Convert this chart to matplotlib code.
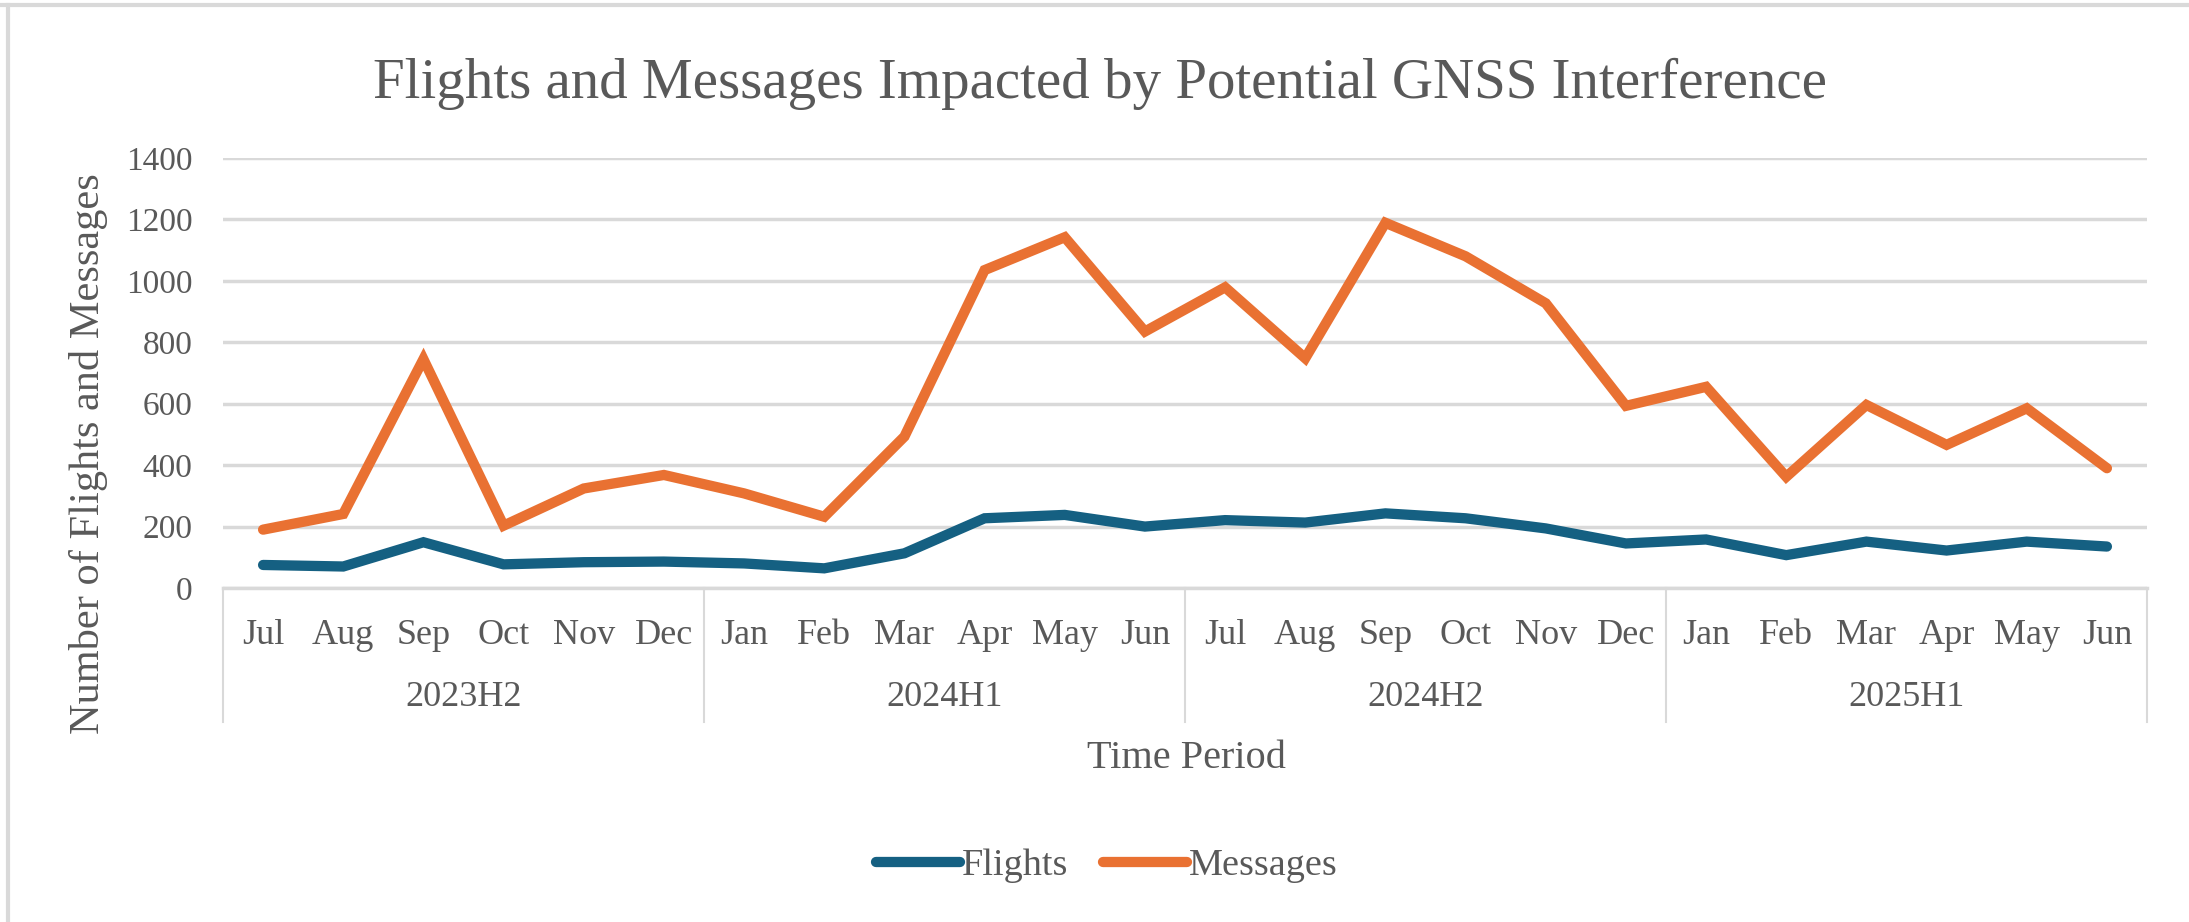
import matplotlib
matplotlib.use("Agg")
import matplotlib.pyplot as plt
from matplotlib.lines import Line2D
import matplotlib.transforms as mtransforms

months = ["Jul", "Aug", "Sep", "Oct", "Nov", "Dec",
          "Jan", "Feb", "Mar", "Apr", "May", "Jun",
          "Jul", "Aug", "Sep", "Oct", "Nov", "Dec",
          "Jan", "Feb", "Mar", "Apr", "May", "Jun"]
groups = ["2023H2", "2024H1", "2024H2", "2025H1"]
flights = [75, 70, 149, 77, 84, 86,
           80, 64, 113, 227, 238, 200,
           221, 213, 243, 227, 194, 145,
           158, 107, 151, 122, 151, 135]
messages = [190, 241, 745, 203, 324, 368,
            308, 232, 493, 1035, 1142, 835,
            979, 748, 1189, 1080, 927, 593,
            655, 362, 596, 466, 585, 390]
yticks = [0, 200, 400, 600, 800, 1000, 1200, 1400]

TXT = "#595959"
GRID = "#d9d9d9"
FONT = ["Liberation Serif", "DejaVu Serif"]
plt.rcParams["font.family"] = FONT

W, H = 2189, 922
fig = plt.figure(figsize=(W / 100, H / 100), dpi=100)
fig.patch.set_facecolor("white")

x0, x1, ytop, ybot = 223, 2147, 158, 588
ax = fig.add_axes([x0 / W, 1 - ybot / H, (x1 - x0) / W, (ybot - ytop) / H])

xs = list(range(len(months)))
ax.plot(xs, flights, color="#156082", lw=7.4, solid_capstyle="round",
        solid_joinstyle="miter", label="Flights", zorder=3)
ax.plot(xs, messages, color="#E97132", lw=7.4, solid_capstyle="round",
        solid_joinstyle="miter", label="Messages", zorder=3)

ax.set_xlim(-0.5, len(months) - 0.5)
ax.set_ylim(0, 1400)
ax.set_yticks(yticks)
ax.set_yticklabels([str(v) for v in yticks])
ax.tick_params(axis="y", length=0, pad=22, labelsize=24, labelcolor=TXT)
ax.set_xticks([])
for s in ["top", "right", "left"]:
    ax.spines[s].set_visible(False)
ax.spines["bottom"].set_color(GRID)
ax.spines["bottom"].set_linewidth(2.5)
ax.grid(axis="y", color=GRID, lw=2.5)
ax.set_axisbelow(True)

trans = mtransforms.blended_transform_factory(ax.transData, ax.transAxes)
axh = ybot - ytop
for i, m in enumerate(months):
    ax.text(i, -(636 - ybot) / axh, m, transform=trans, ha="center", va="center",
            fontsize=26, color=TXT)
for g, name in enumerate(groups):
    ax.text(g * 6 + 2.5, -(697 - ybot) / axh, name, transform=trans,
            ha="center", va="center", fontsize=26, color=TXT)
for b in [-0.5, 5.5, 11.5, 17.5, 23.5]:
    ax.add_line(Line2D([b, b], [0, -(722 - ybot) / axh], transform=trans,
                       color=GRID, lw=1.5, clip_on=False))

fig.text(1100 / W, 1 - 98 / H,
         "Flights and Messages Impacted by Potential GNSS Interference",
         ha="center", va="baseline", fontsize=41, color=TXT)
fig.text(1186 / W, 1 - 758 / H, "Time Period", ha="center", va="center",
         fontsize=29, color=TXT)
fig.text(89 / W, 1 - 454 / H, "Number of Flights and Messages", ha="center",
         va="center", rotation=90, fontsize=30.5, color=TXT)

leg = fig.legend(loc="center", bbox_to_anchor=(1107 / W, 1 - 866 / H),
                 ncol=2, frameon=False, fontsize=27.5, handlelength=2.2,
                 handletextpad=0.05, columnspacing=0.9)
for t in leg.get_texts():
    t.set_color(TXT)

# chart frame (top and left edges visible)
fig.add_artist(Line2D([0, 1], [1 - 5 / H, 1 - 5 / H], transform=fig.transFigure,
                      color=GRID, lw=3))
fig.add_artist(Line2D([8 / W, 8 / W], [0, 1 - 5 / H], transform=fig.transFigure,
                      color=GRID, lw=3))

fig.savefig("out.png", dpi=100, facecolor="white")
